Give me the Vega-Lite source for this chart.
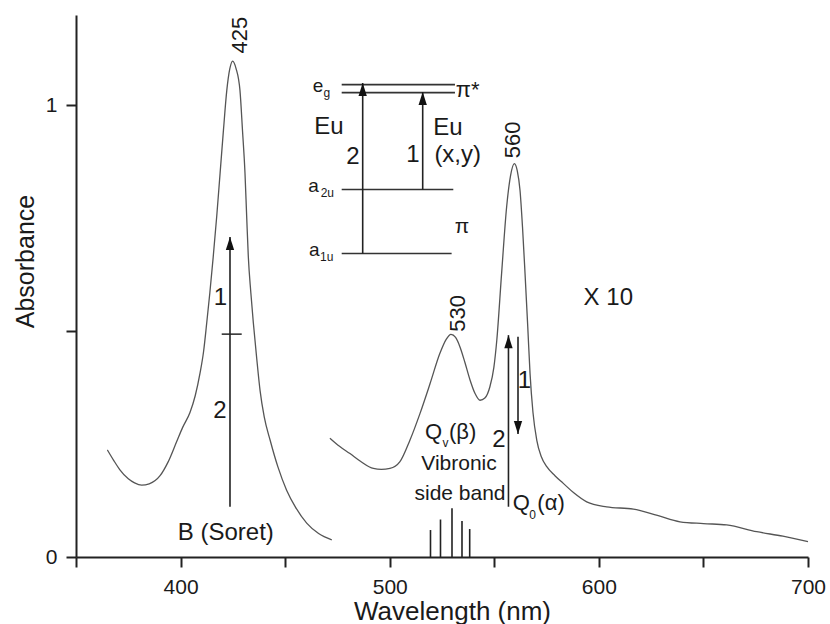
{
  "$schema": "https://vega.github.io/schema/vega-lite/v6.json",
  "autosize": "none",
  "width": 732,
  "height": 542,
  "padding": {"left": 76, "top": 15, "right": 22, "bottom": 67},
  "background": "white",
  "config": {"view": {"stroke": null}},
  "datasets": {
    "curves": [
      {"band": "B", "x": 365.0, "y": 0.237}, {"band": "B", "x": 368.0, "y": 0.214}, {"band": "B", "x": 371.0, "y": 0.193},
      {"band": "B", "x": 375.0, "y": 0.173}, {"band": "B", "x": 378.0, "y": 0.164}, {"band": "B", "x": 381.4, "y": 0.159},
      {"band": "B", "x": 385.0, "y": 0.162}, {"band": "B", "x": 390.2, "y": 0.180}, {"band": "B", "x": 394.0, "y": 0.210},
      {"band": "B", "x": 398.1, "y": 0.255}, {"band": "B", "x": 401.0, "y": 0.287}, {"band": "B", "x": 404.5, "y": 0.320},
      {"band": "B", "x": 407.0, "y": 0.357}, {"band": "B", "x": 409.3, "y": 0.407}, {"band": "B", "x": 411.0, "y": 0.455},
      {"band": "B", "x": 412.5, "y": 0.518}, {"band": "B", "x": 414.0, "y": 0.585}, {"band": "B", "x": 415.6, "y": 0.664},
      {"band": "B", "x": 417.3, "y": 0.755}, {"band": "B", "x": 418.9, "y": 0.850}, {"band": "B", "x": 420.5, "y": 0.945},
      {"band": "B", "x": 422.1, "y": 1.033}, {"band": "B", "x": 423.5, "y": 1.080}, {"band": "B", "x": 424.9, "y": 1.098},
      {"band": "B", "x": 426.5, "y": 1.082}, {"band": "B", "x": 428.4, "y": 1.033}, {"band": "B", "x": 429.6, "y": 0.945},
      {"band": "B", "x": 430.8, "y": 0.850}, {"band": "B", "x": 431.6, "y": 0.755}, {"band": "B", "x": 432.4, "y": 0.664},
      {"band": "B", "x": 433.6, "y": 0.585}, {"band": "B", "x": 434.8, "y": 0.518}, {"band": "B", "x": 436.4, "y": 0.440},
      {"band": "B", "x": 438.0, "y": 0.369}, {"band": "B", "x": 440.0, "y": 0.310}, {"band": "B", "x": 442.8, "y": 0.259},
      {"band": "B", "x": 446.5, "y": 0.200}, {"band": "B", "x": 450.7, "y": 0.148}, {"band": "B", "x": 455.0, "y": 0.110},
      {"band": "B", "x": 460.3, "y": 0.075}, {"band": "B", "x": 466.0, "y": 0.052}, {"band": "B", "x": 472.3, "y": 0.038},
      {"band": "Q", "x": 471.4, "y": 0.263}, {"band": "Q", "x": 476.0, "y": 0.245}, {"band": "Q", "x": 481.0, "y": 0.229},
      {"band": "Q", "x": 486.0, "y": 0.212}, {"band": "Q", "x": 492.2, "y": 0.196}, {"band": "Q", "x": 496.0, "y": 0.194},
      {"band": "Q", "x": 500.1, "y": 0.196}, {"band": "Q", "x": 504.9, "y": 0.211}, {"band": "Q", "x": 509.7, "y": 0.259},
      {"band": "Q", "x": 514.5, "y": 0.318}, {"band": "Q", "x": 519.3, "y": 0.384}, {"band": "Q", "x": 524.0, "y": 0.451},
      {"band": "Q", "x": 527.0, "y": 0.482}, {"band": "Q", "x": 529.3, "y": 0.493}, {"band": "Q", "x": 531.5, "y": 0.486},
      {"band": "Q", "x": 533.6, "y": 0.465}, {"band": "Q", "x": 536.0, "y": 0.430}, {"band": "Q", "x": 538.4, "y": 0.392},
      {"band": "Q", "x": 540.8, "y": 0.362}, {"band": "Q", "x": 543.2, "y": 0.347}, {"band": "Q", "x": 545.5, "y": 0.352},
      {"band": "Q", "x": 547.9, "y": 0.377}, {"band": "Q", "x": 549.8, "y": 0.420}, {"band": "Q", "x": 551.2, "y": 0.480},
      {"band": "Q", "x": 553.5, "y": 0.628}, {"band": "Q", "x": 555.9, "y": 0.775}, {"band": "Q", "x": 557.8, "y": 0.845},
      {"band": "Q", "x": 559.6, "y": 0.871}, {"band": "Q", "x": 561.0, "y": 0.855}, {"band": "Q", "x": 562.3, "y": 0.812},
      {"band": "Q", "x": 563.5, "y": 0.730}, {"band": "Q", "x": 564.7, "y": 0.628}, {"band": "Q", "x": 566.0, "y": 0.510},
      {"band": "Q", "x": 567.1, "y": 0.406}, {"band": "Q", "x": 568.5, "y": 0.320}, {"band": "Q", "x": 570.3, "y": 0.259},
      {"band": "Q", "x": 572.5, "y": 0.222}, {"band": "Q", "x": 575.1, "y": 0.200}, {"band": "Q", "x": 579.0, "y": 0.180},
      {"band": "Q", "x": 583.0, "y": 0.163}, {"band": "Q", "x": 588.0, "y": 0.142}, {"band": "Q", "x": 594.2, "y": 0.122},
      {"band": "Q", "x": 603.7, "y": 0.111}, {"band": "Q", "x": 616.5, "y": 0.106}, {"band": "Q", "x": 628.0, "y": 0.092},
      {"band": "Q", "x": 638.8, "y": 0.078}, {"band": "Q", "x": 650.0, "y": 0.074}, {"band": "Q", "x": 661.1, "y": 0.071},
      {"band": "Q", "x": 675.5, "y": 0.056}, {"band": "Q", "x": 688.0, "y": 0.046}, {"band": "Q", "x": 700.0, "y": 0.034}
    ],
    "hlines": [
      {"x": 477.04, "x2": 531.2, "y": 1.0458},
      {"x": 477.04, "x2": 531.2, "y": 1.0281},
      {"x": 477.04, "x2": 530.4, "y": 0.8135},
      {"x": 477.04, "x2": 529.6, "y": 0.6719},
      {"x": 419.67, "x2": 429.23, "y": 0.4934}
    ],
    "vlines": [
      {"x": 487.08, "y": 0.6719, "y2": 1.0494},
      {"x": 515.77, "y": 0.8135, "y2": 1.0294},
      {"x": 423.63, "y": 0.1113, "y2": 0.7086},
      {"x": 556.78, "y": 0.1113, "y2": 0.4912},
      {"x": 561.34, "y": 0.4874, "y2": 0.2721},
      {"x": 519.5, "y": 0, "y2": 0.0597},
      {"x": 524.28, "y": 0, "y2": 0.083},
      {"x": 529.78, "y": 0, "y2": 0.1077},
      {"x": 534.56, "y": 0, "y2": 0.0796},
      {"x": 538.24, "y": 0, "y2": 0.0619}
    ],
    "upheads": [
      {"x": 487.08, "y": 1.0494},
      {"x": 515.77, "y": 1.0294},
      {"x": 423.63, "y": 0.7086},
      {"x": 556.78, "y": 0.4912}
    ],
    "downheads": [
      {"x": 561.34, "y": 0.2721}
    ],
    "textBig": [
      {"x": 421.65, "y": 0.0376, "label": "B (Soret)"},
      {"x": 604.52, "y": 0.5575, "label": "X 10"},
      {"x": 419.09, "y": 0.5575, "label": "1"},
      {"x": 418.85, "y": 0.3069, "label": "2"},
      {"x": 552.25, "y": 0.2440, "label": "2"},
      {"x": 564.45, "y": 0.3732, "label": "1"},
      {"x": 470.97, "y": 0.9374, "label": "Eu"},
      {"x": 482.45, "y": 0.8710, "label": "2"},
      {"x": 511.13, "y": 0.8746, "label": "1"},
      {"x": 527.87, "y": 0.9336, "label": "Eu"},
      {"x": 532.51, "y": 0.8746, "label": "(x,y)"}
    ],
    "textMid": [
      {"x": 533.13, "y": 0.1925, "label": "Vibronic"},
      {"x": 533.61, "y": 0.1261, "label": "side band"},
      {"x": 534.56, "y": 0.7168, "label": "π"}
    ],
    "textLeft": [
      {"x": 516.87, "y": 0.2611, "label": "Q"},
      {"x": 528.35, "y": 0.2611, "label": "(β)"},
      {"x": 558.80, "y": 0.1040, "label": "Q"},
      {"x": 570.6, "y": 0.1040, "label": "(α)"},
      {"x": 531.55, "y": 1.0184, "label": "π*"}
    ],
    "textLevel": [
      {"x": 463.18, "y": 1.0294, "label": "e"},
      {"x": 461.07, "y": 0.8082, "label": "a"},
      {"x": 461.41, "y": 0.6659, "label": "a"}
    ],
    "textSub": [
      {"x": 525.24, "y": 0.2434, "label": "v"},
      {"x": 566.7, "y": 0.0841, "label": "0"},
      {"x": 468.34, "y": 1.0177, "label": "g"},
      {"x": 467.0, "y": 0.7965, "label": "2u"},
      {"x": 466.67, "y": 0.6549, "label": "1u"}
    ],
    "peaks": [
      {"x": 431.62, "y": 1.1150, "label": "425"},
      {"x": 562.30, "y": 0.8827, "label": "560"},
      {"x": 536.0, "y": 0.4985, "label": "530"}
    ]
  },
  "encoding": {
    "x": {
      "field": "x", "type": "quantitative",
      "scale": {"domain": [350, 700], "nice": false, "zero": false},
      "axis": {
        "title": "Wavelength (nm)",
        "values": [350, 400, 450, 500, 550, 600, 650, 700],
        "labelExpr": "datum.value % 100 === 0 ? datum.label : ''",
        "grid": false, "labelFlush": false, "labelOverlap": false,
        "domainColor": "#222", "domainWidth": 2,
        "tickColor": "#222", "tickWidth": 2, "tickSize": 10,
        "labelFont": "Liberation Sans", "labelFontSize": 21, "labelColor": "#1a1a1a", "labelPadding": 9,
        "titleFont": "Liberation Sans", "titleFontSize": 26, "titleFontWeight": "normal", "titleColor": "#1a1a1a",
        "titleX": 376, "titleY": 62, "titleBaseline": "alphabetic"
      }
    },
    "y": {
      "field": "y", "type": "quantitative",
      "scale": {"domain": [0, 1.2], "nice": false},
      "axis": {
        "title": "Absorbance",
        "values": [0, 0.5, 1],
        "labelExpr": "datum.value === 0 ? '0' : (datum.value === 1 ? '1' : '')",
        "grid": false, "labelOverlap": false,
        "domainColor": "#222", "domainWidth": 2,
        "tickColor": "#222", "tickWidth": 2, "tickSize": 10,
        "labelFont": "Liberation Sans", "labelFontSize": 21, "labelColor": "#1a1a1a", "labelPadding": 9,
        "titleFont": "Liberation Sans", "titleFontSize": 25, "titleFontWeight": "normal", "titleColor": "#1a1a1a",
        "titleX": -43, "titleY": 246, "titleAngle": 270, "titleBaseline": "alphabetic", "titleAlign": "center"
      }
    }
  },
  "layer": [
    {
      "data": {"name": "curves"},
      "mark": {"type": "line", "color": "#555555", "strokeWidth": 1.3, "interpolate": "monotone"},
      "encoding": {"detail": {"field": "band", "type": "nominal"}}
    },
    {
      "data": {"name": "hlines"},
      "mark": {"type": "rule", "color": "#333333", "strokeWidth": 1.6},
      "encoding": {"x2": {"field": "x2"}}
    },
    {
      "data": {"name": "vlines"},
      "mark": {"type": "rule", "color": "#222222", "strokeWidth": 1.6},
      "encoding": {"y2": {"field": "y2"}}
    },
    {
      "data": {"name": "upheads"},
      "mark": {"type": "point", "shape": "M0,0L0.32,1L-0.32,1Z", "size": 676, "filled": true, "color": "#111111", "opacity": 1, "strokeWidth": 0},
      "encoding": {}
    },
    {
      "data": {"name": "downheads"},
      "mark": {"type": "point", "shape": "M0,0L0.32,-1L-0.32,-1Z", "size": 676, "filled": true, "color": "#111111", "opacity": 1, "strokeWidth": 0},
      "encoding": {}
    },
    {
      "data": {"name": "textBig"},
      "mark": {"type": "text", "font": "Liberation Sans", "fontSize": 24, "align": "center", "baseline": "alphabetic", "color": "#1a1a1a"},
      "encoding": {"text": {"field": "label", "type": "nominal"}}
    },
    {
      "data": {"name": "textMid"},
      "mark": {"type": "text", "font": "Liberation Sans", "fontSize": 21, "align": "center", "baseline": "alphabetic", "color": "#1a1a1a"},
      "encoding": {"text": {"field": "label", "type": "nominal"}}
    },
    {
      "data": {"name": "textLeft"},
      "mark": {"type": "text", "font": "Liberation Sans", "fontSize": 22, "align": "left", "baseline": "alphabetic", "color": "#1a1a1a"},
      "encoding": {"text": {"field": "label", "type": "nominal"}}
    },
    {
      "data": {"name": "textLevel"},
      "mark": {"type": "text", "font": "Liberation Sans", "fontSize": 19, "align": "left", "baseline": "alphabetic", "color": "#1a1a1a"},
      "encoding": {"text": {"field": "label", "type": "nominal"}}
    },
    {
      "data": {"name": "textSub"},
      "mark": {"type": "text", "font": "Liberation Sans", "fontSize": 12, "align": "left", "baseline": "alphabetic", "color": "#1a1a1a"},
      "encoding": {"text": {"field": "label", "type": "nominal"}}
    },
    {
      "data": {"name": "peaks"},
      "mark": {"type": "text", "font": "Liberation Sans", "fontSize": 22, "align": "left", "baseline": "alphabetic", "angle": 270, "color": "#1a1a1a"},
      "encoding": {"text": {"field": "label", "type": "nominal"}}
    }
  ]
}
